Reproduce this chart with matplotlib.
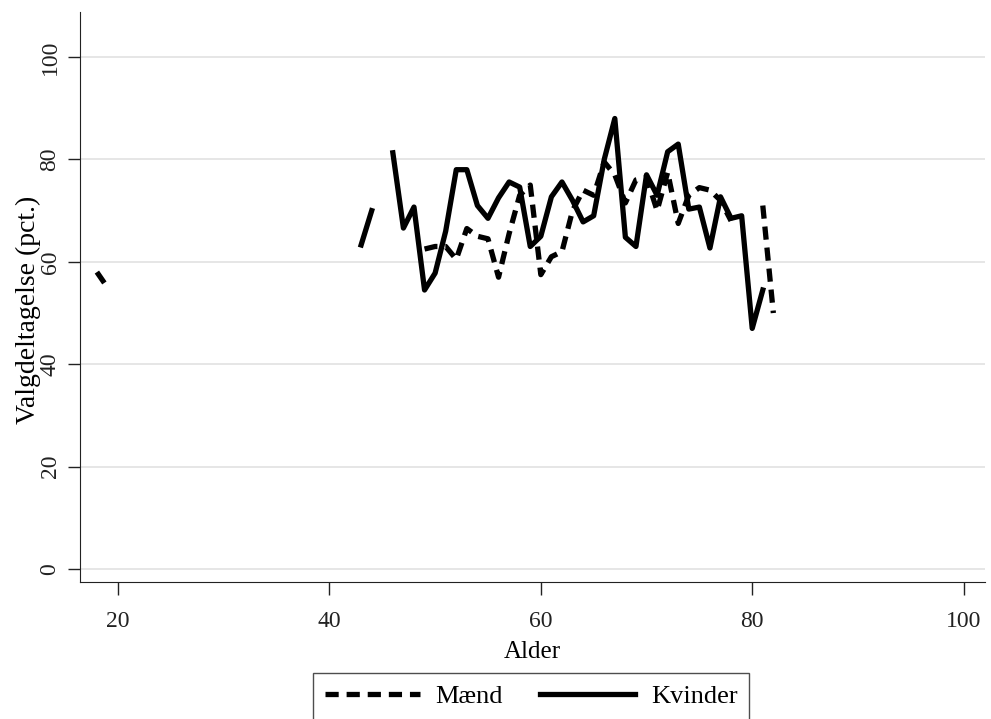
import matplotlib
matplotlib.use("Agg")
import matplotlib.pyplot as plt
import numpy as np

nan = np.nan

# age and turnout (pct.) per gender, gaps where no data
alder_maend = [18, 19, 20,
               49, 50, 51, 52, 53, 54, 55, 56, 57, 58, 59, 60, 61, 62, 63, 64, 65,
               66, 67, 68, 69, 70, 71, 72, 73, 74, 75, 76, 77, 78, 79, 81, 82]
maend = [58, 55, nan,
         62.5, 63, 63, 60.5, 66.5, 65, 64.5, 57, 65.5, 73, 75, 57.5, 61, 62, 70, 74, 73,
         79.5, 77, 71.5, 76, 76.5, 70, 77.5, 67.5, 73, 74.5, 74, 72, 68, nan, 71, 50]

alder_kvinder = [43, 44, 45, 46, 47, 48, 49, 50, 51, 52, 53, 54, 55, 56, 57, 58, 59, 60,
                 61, 62, 63, 64, 65, 66, 67, 68, 69, 70, 71, 72, 73, 74, 75, 76, 77,
                 78, 79, 80, 81]
kvinder = [63.3, 70, nan, 81.3, 66.6, 70.7, 54.5, 57.8, 66, 78, 78, 71, 68.5, 72.5, 75.6,
           74.6, 63, 65, 72.7, 75.6, 72, 67.8, 69, 80, 88, 64.8, 63, 77, 73, 81.5, 83,
           70.3, 70.7, 62.7, 72.7, 68.5, 69, 47, 54.5]

xticks = [20, 40, 60, 80, 100]
yticks = [0, 20, 40, 60, 80, 100]


def main():
    plt.rcParams['font.family'] = ['Liberation Serif', 'DejaVu Serif']

    fig = plt.figure(figsize=(9.91, 7.19), dpi=100)
    ax = fig.add_axes([0.0807, 0.1905, 0.913, 0.7928])

    ax.plot(alder_maend, maend, color="black", linewidth=3.8,
            linestyle=(0, (2.5, 1.5)), label="Mænd")
    ax.plot(alder_kvinder, kvinder, color="black", linewidth=3.8,
            linestyle="-", label="Kvinder")

    ax.set_xlim(16.4, 102.0)
    ax.set_ylim(-2.54, 108.8)
    ax.set_xticks(xticks)
    ax.set_yticks(yticks)
    ax.tick_params(axis="both", direction="out", length=9, width=1,
                   labelsize=17, colors="#222222", pad=5)
    ax.tick_params(axis="x", pad=12)
    for lbl in ax.get_yticklabels():
        lbl.set_rotation(90)
        lbl.set_va("center")

    ax.grid(axis="y", color="#e2e2e2", linewidth=1.2)
    ax.set_axisbelow(True)
    for side in ["top", "right"]:
        ax.spines[side].set_visible(False)
    ax.spines["left"].set_color("#222222")
    ax.spines["bottom"].set_color("#222222")

    ax.set_xlabel("Alder", fontsize=18, labelpad=6)
    ax.set_ylabel("Valgdeltagelse (pct.)", fontsize=20)
    ax.yaxis.set_label_coords(-0.0434, 0.477)

    leg = fig.legend(loc="upper center", bbox_to_anchor=(0.536, 0.064), ncol=2,
                     fontsize=19, frameon=True, fancybox=False, edgecolor="#222222",
                     handlelength=3.6, handletextpad=0.6, columnspacing=1.4,
                     borderpad=0.45, borderaxespad=0)
    leg.get_frame().set_linewidth(1.0)

    fig.savefig("out.png", dpi=100, facecolor="white")


if __name__ == "__main__":
    main()
